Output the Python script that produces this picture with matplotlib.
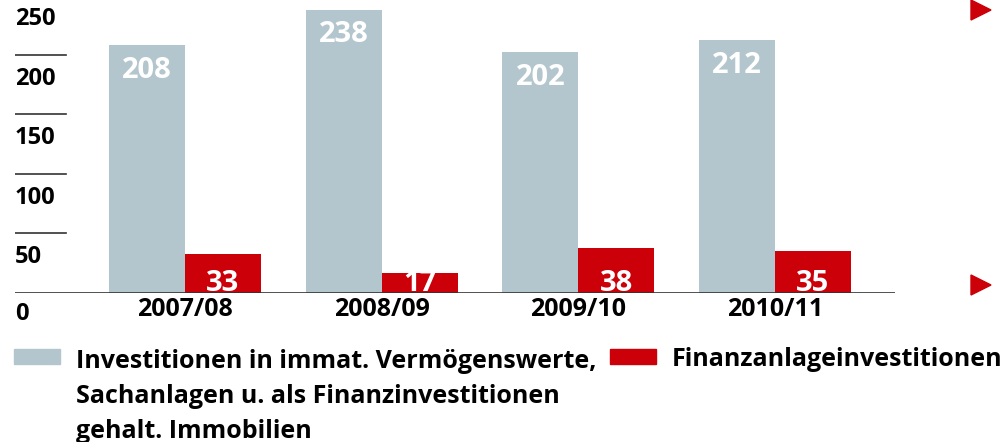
import matplotlib.pyplot as plt
from matplotlib.patches import Rectangle, Polygon

plt.rcParams['font.family'] = ['Open Sans', 'DejaVu Sans']

# Daten
jahre = ['2007/08', '2008/09', '2009/10', '2010/11']
investitionen = [208, 238, 202, 212]
finanzanlagen = [33, 17, 38, 35]
y_ticks = [0, 50, 100, 150, 200, 250]
legende_grau = ['Investitionen in immat. Vermögenswerte,',
                'Sachanlagen u. als Finanzinvestitionen',
                'gehalt. Immobilien']
legende_rot = 'Finanzanlageinvestitionen'

grau = '#b4c6cd'
rot = '#cc0009'

W, H = 1003, 442
fig = plt.figure(figsize=(W / 100, H / 100), dpi=100)

# Achse: Basislinie bei y=293 px, x von 15 bis 895 px
ax = fig.add_axes([15 / W, (H - 293) / H, 880 / W, 293 / H])
ax.set_xlim(-0.864, 3.61)
ax.set_ylim(0, 246)
ax.axis('off')

x = range(len(jahre))
bw = 0.386
ax.bar([i - bw / 2 for i in x], investitionen, width=bw, color=grau)
ax.bar([i + bw / 2 for i in x], finanzanlagen, width=bw, color=rot)

ax.axhline(0, color='#333333', lw=1.2)
for v in y_ticks[1:-1]:
    ax.axhline(v, xmin=0, xmax=51 / 880, color='#333333', lw=1.2)

for i in x:
    ax.annotate(str(investitionen[i]), (i - bw / 2, investitionen[i]), xytext=(0, -25),
                textcoords='offset pixels', ha='center', va='center',
                color='white', fontsize=21, fontweight='bold')
    ax.annotate(str(finanzanlagen[i]), (i + bw / 2, 0), xytext=(0, 2),
                textcoords='offset pixels', ha='center', va='baseline',
                color='white', fontsize=21, fontweight='bold')
    ax.annotate(jahre[i], (i, 0), xytext=(0, -16), textcoords='offset pixels',
                ha='center', va='center', fontsize=18, fontweight='bold')

# Y-Beschriftung unterhalb der Linien
for v in y_ticks:
    ax.annotate(str(v), (0, v), xycoords=('axes fraction', 'data'),
                xytext=(0, -21 if v == 0 else -24),
                textcoords='offset pixels', ha='left', va='center',
                fontsize=17, fontweight='bold')

# Legende
fig.add_artist(Rectangle((14 / W, 1 - 364 / H), 46 / W, 15 / H, color=grau,
                         transform=fig.transFigure))
fig.add_artist(Rectangle((610 / W, 1 - 364 / H), 46 / W, 15 / H, color=rot,
                         transform=fig.transFigure))
for k, zeile in enumerate(legende_grau):
    fig.text(76 / W, 1 - (368 + 35 * k) / H, zeile, ha='left', va='baseline',
             fontsize=18, fontweight='bold')
fig.text(672 / W, 1 - 366 / H, legende_rot, ha='left', va='baseline',
         fontsize=18, fontweight='bold')

# Pfeile rechts
for yc in [10, 285]:
    fig.add_artist(Polygon([(971 / W, 1 - (yc - 10) / H), (991 / W, 1 - yc / H),
                            (971 / W, 1 - (yc + 10) / H)], closed=True, color=rot,
                           transform=fig.transFigure))

fig.savefig('out.png', dpi=100)
